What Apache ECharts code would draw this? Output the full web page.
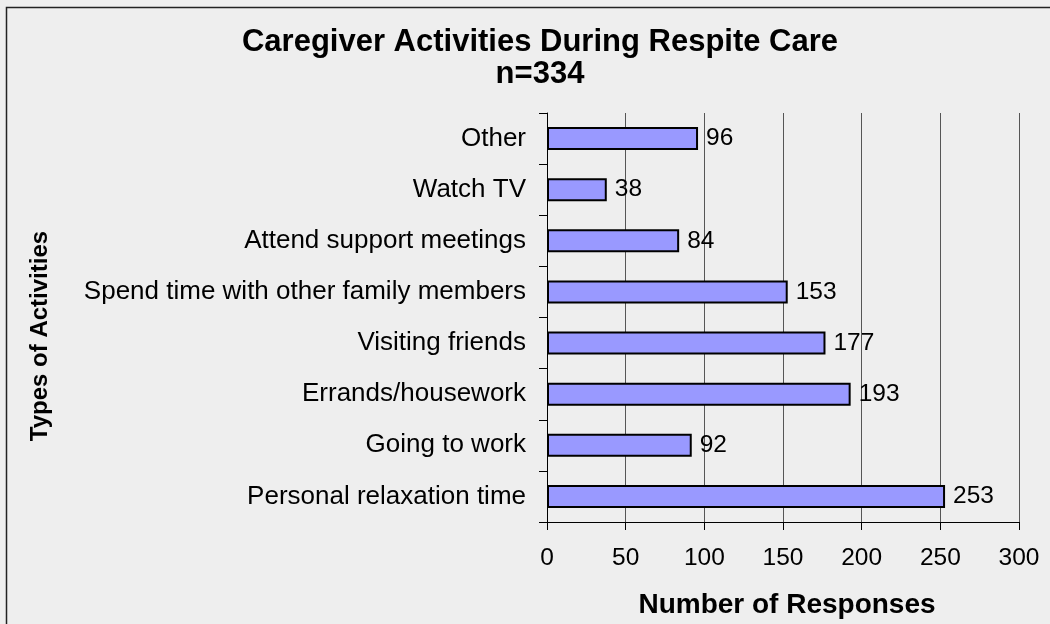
<!DOCTYPE html>
<html>
<head>
<meta charset="utf-8">
<script src="https://cdn.jsdelivr.net/npm/echarts@6/dist/echarts.min.js"></script>
<style>
html,body{margin:0;padding:0;background:#eeeeee;}
#chart{width:1050px;height:624px;}
</style>
</head>
<body>
<div id="chart"></div>
<script>
// Categories listed bottom to top (category axis starts at bottom)
const categories = [
  "Personal relaxation time",
  "Going to work",
  "Errands/housework",
  "Visiting friends",
  "Spend time with other family members",
  "Attend support meetings",
  "Watch TV",
  "Other"
];
const responses = [253, 92, 193, 177, 153, 84, 38, 96];
const titleLines = ["Caregiver Activities During Respite Care", "n=334"];
const xAxisTitle = "Number of Responses";
const yAxisTitle = "Types of Activities";
const xMin = 0, xMax = 300, xStep = 50;

const chart = echarts.init(document.getElementById('chart'), null, {renderer: 'canvas'});
const font = 'Arial, "Liberation Sans", sans-serif';
chart.setOption({
  backgroundColor: '#eeeeee',
  animation: false,
  title: {
    text: titleLines.join('\n'),
    left: 535,
    top: 21,
    textAlign: 'center',
    textStyle: {fontFamily: font, fontSize: 31, fontWeight: 'bold', color: '#000', lineHeight: 32}
  },
  grid: {left: 547, right: 31, top: 113, bottom: 102, containLabel: false},
  xAxis: {
    type: 'value',
    min: xMin, max: xMax, interval: xStep,
    axisLine: {show: true, lineStyle: {color: '#000', width: 1}},
    axisTick: {show: true, length: 8, lineStyle: {color: '#000'}},
    axisLabel: {fontFamily: font, fontSize: 24.5, color: '#000', margin: 24},
    splitLine: {show: true, lineStyle: {color: '#555', width: 1}}
  },
  yAxis: {
    type: 'category',
    data: categories,
    axisLine: {show: true, lineStyle: {color: '#000', width: 1}},
    axisTick: {show: true, length: 8, alignWithLabel: false, lineStyle: {color: '#000'}},
    axisLabel: {fontFamily: font, fontSize: 26, color: '#000', margin: 21},
    splitLine: {show: false}
  },
  series: [{
    type: 'bar',
    data: responses,
    barWidth: 23,
    itemStyle: {color: '#9999ff', borderColor: '#000', borderWidth: 2},
    label: {show: true, position: 'right', distance: 8, fontFamily: font, fontSize: 24.5, color: '#000'}
  }],
  graphic: [
    {type: 'rect', shape: {x: 6.5, y: 7.5, width: 1100, height: 700}, style: {fill: 'none', stroke: '#222', lineWidth: 1.5}, silent: true},
    {type: 'text', x: 40, y: 336, rotation: Math.PI / 2,
     style: {text: yAxisTitle, font: 'bold 24px ' + font, fill: '#000', align: 'center', verticalAlign: 'middle'}},
    {type: 'text', x: 787, y: 605,
     style: {text: xAxisTitle, font: 'bold 28px ' + font, fill: '#000', align: 'center', verticalAlign: 'middle'}}
  ]
});
</script>
</body>
</html>
